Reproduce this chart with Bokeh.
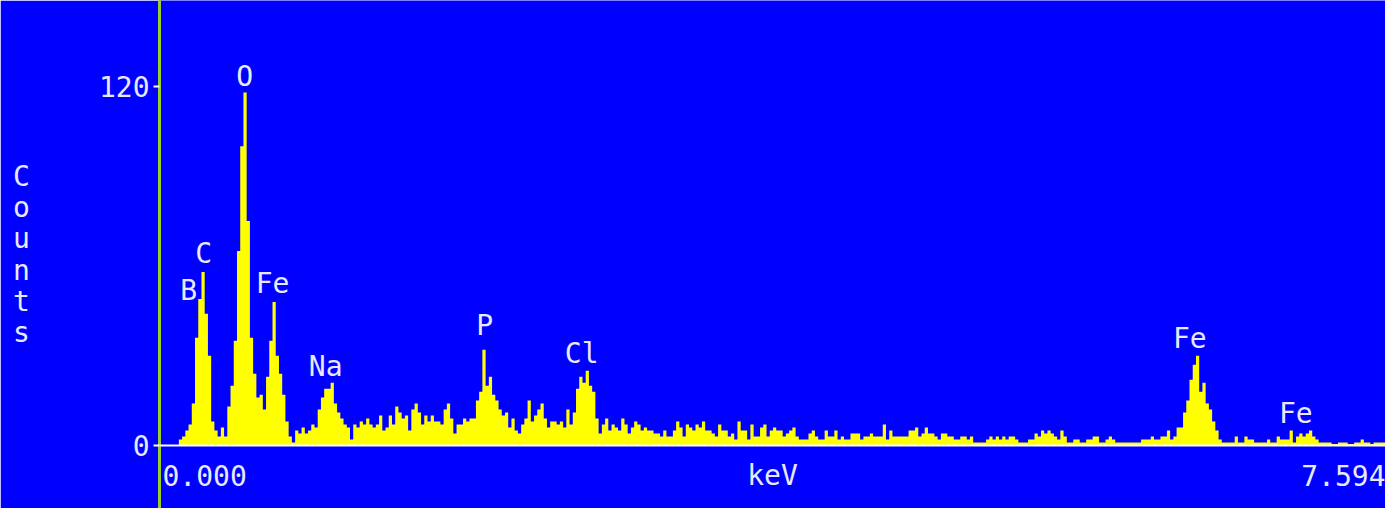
import numpy as np
from bokeh.plotting import figure
from bokeh.models import Range1d, FixedTicker, Span
from bokeh.core.properties import value
from bokeh.embed import file_html
from bokeh.resources import INLINE

# ---- data ----
channel_kev = 0.02
counts = [
    0, 0, 0, 0, 0, 0, 2, 3, 5, 7,
    14, 36, 49, 58, 44, 30, 8, 5, 3, 6,
    3, 13, 20, 35, 65, 100, 118, 75, 36, 24,
    16, 17, 12, 23, 35, 48, 30, 24, 17, 8,
    3, 1, 5, 4, 6, 4, 5, 7, 6, 12,
    16, 19, 19, 21, 14, 11, 9, 7, 6, 2,
    7, 6, 8, 7, 9, 7, 6, 7, 10, 5,
    6, 10, 7, 13, 11, 9, 10, 5, 12, 14,
    11, 7, 10, 8, 10, 8, 8, 7, 12, 14,
    9, 4, 7, 7, 9, 8, 9, 9, 15, 18,
    32, 20, 23, 17, 15, 12, 10, 11, 6, 9,
    5, 4, 7, 9, 15, 8, 10, 12, 14, 9,
    6, 8, 8, 7, 8, 6, 12, 7, 11, 19,
    23, 21, 25, 20, 18, 9, 4, 7, 9, 5,
    7, 6, 5, 9, 7, 4, 6, 8, 7, 5,
    6, 5, 5, 4, 4, 3, 5, 3, 3, 5,
    8, 6, 3, 7, 6, 5, 7, 6, 8, 5,
    5, 4, 3, 7, 5, 5, 3, 4, 2, 8,
    5, 5, 2, 7, 3, 3, 6, 7, 3, 5,
    6, 5, 5, 3, 4, 5, 6, 3, 2, 2,
    2, 4, 5, 3, 2, 2, 5, 3, 3, 5,
    2, 3, 2, 2, 4, 4, 4, 2, 3, 3,
    4, 3, 3, 3, 7, 2, 5, 3, 3, 3,
    3, 3, 5, 5, 6, 3, 4, 6, 4, 4,
    3, 2, 4, 4, 3, 3, 2, 2, 3, 3,
    2, 3, 1, 1, 1, 1, 2, 3, 2, 3,
    2, 3, 2, 3, 3, 2, 1, 1, 1, 2,
    2, 4, 3, 5, 4, 5, 4, 3, 2, 5,
    3, 1, 1, 2, 2, 1, 1, 2, 2, 3,
    3, 1, 1, 2, 3, 2, 1, 1, 1, 1,
    1, 1, 1, 1, 2, 2, 2, 3, 2, 2,
    3, 3, 5, 2, 3, 6, 6, 11, 15, 22,
    27, 30, 18, 21, 14, 12, 8, 5, 2, 1,
    1, 1, 1, 3, 1, 1, 3, 2, 2, 1,
    1, 1, 1, 2, 1, 1, 3, 2, 2, 2,
    5, 1, 3, 4, 3, 4, 5, 3, 2, 1,
    1, 1, 1, 0.5, 0.5, 1, 1, 1, 0.5, 0.5,
    1, 1, 2, 1, 1, 0.5, 1, 1, 1, 1,
]

x_min, x_max = 0.0, 7.594
energy = [round(i * channel_kev, 3) for i in range(len(counts))] + [x_max]
counts_step = counts + [counts[-1]]

peak_labels = ["B", "C", "O", "Fe", "Na", "P", "Cl", "Fe", "Fe"]
label_kev = [0.180, 0.273, 0.527, 0.700, 1.029, 2.014, 2.615, 6.382, 7.038]
label_counts = [48.8, 61.2, 120.3, 51.1, 23.4, 37.1, 27.7, 32.8, 7.7]

y_ticks = [0, 120]
x_tick_labels = ["0.000", "7.594"]
x_title = "keV"
y_title = "Counts"

# ---- style ----
FONT = "DejaVu Sans Mono"
FS = "28px"
TXT = "#e8e8ff"
BLUE = "#0000ff"
TEXT_SHIFT = -9  # screen px

p = figure(width=1385, height=508, output_backend="svg", toolbar_location=None,
           x_range=Range1d(x_min, x_max), y_range=Range1d(-21.06, 148.73),
           x_axis_location=None)
p.min_border = 0
p.min_border_left = 159
p.background_fill_color = BLUE
p.border_fill_color = BLUE
p.outline_line_color = None
p.xgrid.visible = False
p.ygrid.visible = False

ax = p.yaxis[0]
ax.ticker = FixedTicker(ticks=y_ticks)
ax.major_label_text_font = FONT
ax.major_label_text_font_size = FS
ax.major_label_text_color = TXT
ax.major_label_standoff = 4
ax.major_tick_out = 6
ax.major_tick_in = 0
ax.major_tick_line_color = "white"
ax.major_tick_line_width = 2
ax.minor_tick_line_color = None
ax.axis_line_color = "#9acd32"
ax.axis_line_width = 3
ax.axis_label = "\n".join(y_title)
ax.axis_label_orientation = "horizontal"
ax.axis_label_text_font = FONT
ax.axis_label_text_font_size = FS
ax.axis_label_text_font_style = "normal"
ax.axis_label_text_color = TXT
ax.axis_label_text_line_height = 0.95
ax.axis_label_standoff = 66

# spectrum
p.varea_step(x=energy, y1=0, y2=counts_step, step_mode="after", fill_color="#ffff00")

# baseline
p.add_layout(Span(location=y_ticks[0], dimension="width", line_color="white", line_width=2))

# peak labels
p.text(x=label_kev, y=label_counts, text=peak_labels, text_font=value(FONT),
       text_font_size=FS, text_color=TXT, text_align="center", text_baseline="alphabetic",
       y_offset=TEXT_SHIFT)

# x tick labels and title
p.text(x=[x_min], y=[-13.0], text=[x_tick_labels[0]], text_font=value(FONT), text_font_size=FS,
       text_color=TXT, text_align="left", text_baseline="alphabetic", x_offset=3, y_offset=TEXT_SHIFT)
p.text(x=[x_max], y=[-13.0], text=[x_tick_labels[1]], text_font=value(FONT), text_font_size=FS,
       text_color=TXT, text_align="right", text_baseline="alphabetic", y_offset=TEXT_SHIFT)
p.text(x=[(x_min + x_max) / 2], y=[-13.0], text=[x_title], text_font=value(FONT), text_font_size=FS,
       text_color=TXT, text_align="center", text_baseline="alphabetic", y_offset=TEXT_SHIFT)

open("out.html", "w").write(file_html(p, INLINE))
